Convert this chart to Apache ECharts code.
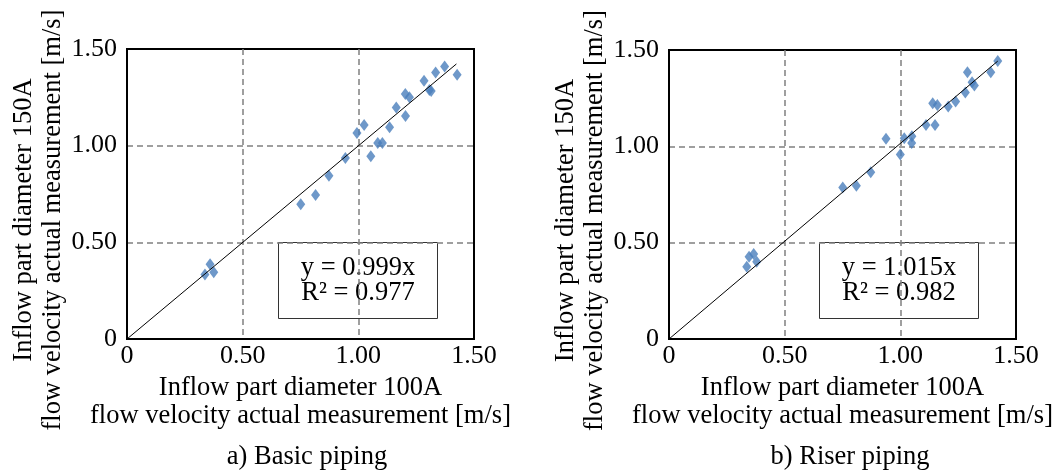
<!DOCTYPE html>
<html><head><meta charset="utf-8">
<script src="https://cdn.jsdelivr.net/npm/echarts@6/dist/echarts.min.js"></script>
<style>html,body{margin:0;padding:0;background:#fff}#c{width:1061px;height:473px}</style>
</head><body><div id="c"></div>
<script>
// Data
const basicX = [0.337,0.359,0.375,0.751,0.815,0.873,0.944,0.994,1.025,1.054,1.084,1.104,1.135,1.164,1.204,1.203,1.221,1.284,1.307,1.315,1.334,1.373,1.427];
const basicY = [0.334,0.386,0.345,0.697,0.745,0.845,0.936,1.066,1.107,0.945,1.014,1.014,1.095,1.198,1.153,1.267,1.250,1.336,1.288,1.283,1.378,1.409,1.367];
const riserX = [0.336,0.346,0.366,0.379,0.751,0.810,0.872,0.938,1.000,1.017,1.050,1.049,1.111,1.150,1.140,1.160,1.207,1.239,1.281,1.290,1.310,1.320,1.391,1.421];
const riserY = [0.375,0.427,0.441,0.401,0.786,0.795,0.865,1.040,0.957,1.042,1.052,1.017,1.111,1.111,1.224,1.215,1.207,1.233,1.280,1.384,1.333,1.316,1.384,1.443];
const basicSlope = 0.999, riserSlope = 1.015;
const trendEndX = [1.424, 1.421];
const eqBasic = ['y = 0.999x', 'R² = 0.977'];
const eqRiser = ['y = 1.015x', 'R² = 0.982'];
const captions = ['a) Basic piping', 'b) Riser piping'];
const xName = 'Inflow part diameter 100A\nflow velocity actual measurement [m/s]';
const yName = 'Inflow part diameter 150A\nflow velocity actual measurement [m/s]';
const axisMin = 0, axisMax = 1.5, axisStep = 0.5;

const FONT = 'Liberation Serif';
const FS = 26.5;
const pairs = (xs, ys) => xs.map((x, i) => [x, ys[i]]);
const fmt = v => v === 0 ? '0' : v.toFixed(2);
const splitStyle = { show: true, showMinLine: false, showMaxLine: false,
  lineStyle: { color: '#808080', width: 1.5, type: [6, 4] } };

function xAxisCfg(idx) {
  return {
    gridIndex: idx, type: 'value', min: axisMin, max: axisMax, interval: axisStep,
    name: xName, nameLocation: 'middle', nameGap: 32,
    nameTextStyle: { fontFamily: FONT, fontSize: FS, color: '#000', lineHeight: 28 },
    axisLine: { show: true, lineStyle: { color: '#000', width: 2 } },
    axisTick: { show: false },
    axisLabel: { formatter: fmt, fontFamily: FONT, fontSize: 26, color: '#000', margin: 4 },
    splitLine: splitStyle
  };
}
function yAxisCfg(idx) {
  return {
    gridIndex: idx, type: 'value', min: axisMin, max: axisMax, interval: axisStep,
    name: yName, nameLocation: 'middle', nameGap: 53,
    nameTextStyle: { fontFamily: FONT, fontSize: FS, color: '#000', lineHeight: 29, padding: [0, 52, 0, 0] },
    axisLine: { show: true, lineStyle: { color: '#000', width: 2 } },
    axisTick: { show: false },
    axisLabel: { formatter: fmt, fontFamily: FONT, fontSize: 26, color: '#000', margin: 10 },
    splitLine: splitStyle
  };
}

const grids = [
  { left: 127, top: 49, width: 347, height: 290 },
  { left: 669, top: 50, width: 347, height: 289 }
];

function scatter(idx, data) {
  return {
    type: 'scatter', xAxisIndex: idx, yAxisIndex: idx, data: data,
    symbol: 'diamond', symbolSize: [9, 12],
    itemStyle: { color: '#4A7EBB' }, z: 3, silent: true
  };
}
function trend(idx, slope, endX) {
  return {
    type: 'line', xAxisIndex: idx, yAxisIndex: idx,
    data: [[0, 0], [endX, slope * endX]],
    symbol: 'none', lineStyle: { color: '#000', width: 1 }, z: 4, silent: true
  };
}

function eqBox(x, y, lines) {
  return {
    type: 'group', left: x, top: y, z: 10,
    children: [
      { type: 'rect', shape: { x: 0, y: 0, width: 159, height: 76 },
        style: { fill: '#fff', stroke: '#333', lineWidth: 1 } },
      { type: 'text', x: 79.5, y: 38,
        style: { text: lines.join('\n'), fontFamily: FONT, fontSize: FS, fill: '#000',
                 align: 'center', verticalAlign: 'middle', lineHeight: 25 } }
    ]
  };
}

const chart = echarts.init(document.getElementById('c'));
chart.setOption({
  backgroundColor: '#fff',
  animation: false,
  grid: grids.map(g => Object.assign({ show: true, borderColor: '#000', borderWidth: 2, backgroundColor: 'transparent', containLabel: false, outerBoundsMode: 'none' }, g)),
  xAxis: [xAxisCfg(0), xAxisCfg(1)],
  yAxis: [yAxisCfg(0), yAxisCfg(1)],
  series: [
    scatter(0, pairs(basicX, basicY)),
    trend(0, basicSlope, trendEndX[0]),
    scatter(1, pairs(riserX, riserY)),
    trend(1, riserSlope, trendEndX[1])
  ],
  graphic: [
    eqBox(278, 242, eqBasic),
    eqBox(819, 242, eqRiser),
    { type: 'text', x: 307, y: 457, style: { text: captions[0], fontFamily: FONT, fontSize: FS, fill: '#000', align: 'center', verticalAlign: 'middle' } },
    { type: 'text', x: 850, y: 457, style: { text: captions[1], fontFamily: FONT, fontSize: FS, fill: '#000', align: 'center', verticalAlign: 'middle' } }
  ]
});
</script>
</body></html>
